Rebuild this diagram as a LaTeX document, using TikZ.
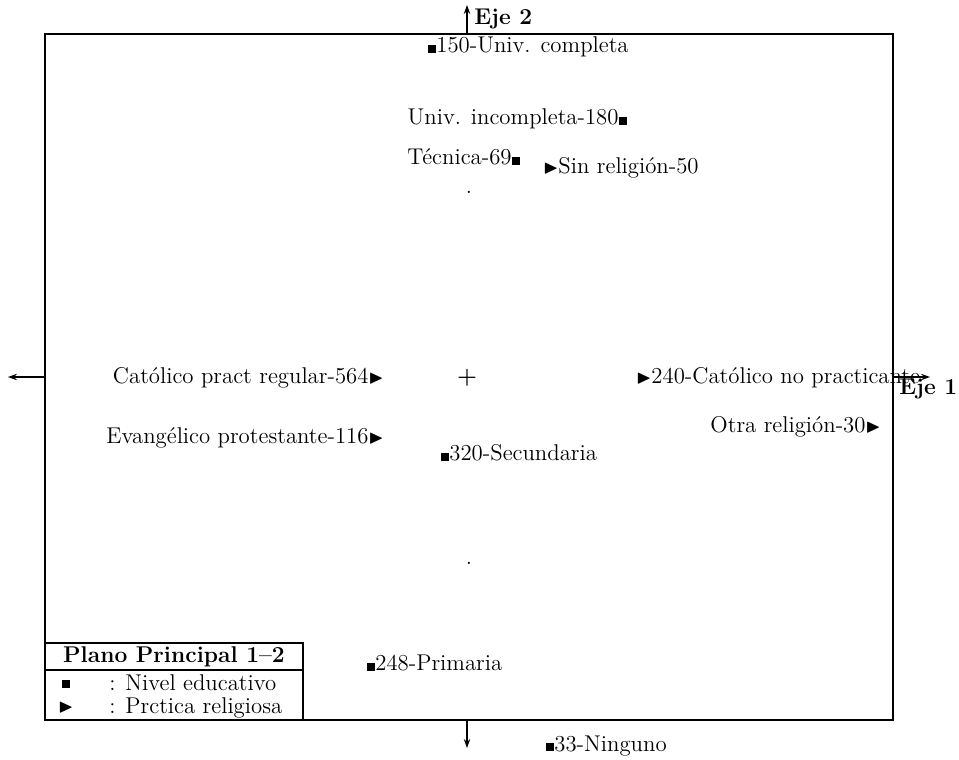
\documentclass[tikz,border=0pt]{standalone}
\usepackage{amssymb}
\usetikzlibrary{arrows.meta}
\newcommand{\msq}{\rule{4pt}{4pt}}
\newcommand{\mtri}{\raisebox{0.2pt}{\scalebox{0.85}{$\blacktriangleright$}}}
\newcommand{\bigtxt}{\fontsize{11.4}{13.5}\selectfont}
\begin{document}
\begin{tikzpicture}[x=0.5pt,y=-0.5pt,
  lbl/.style={inner sep=0pt,font=\bigtxt},
  blbl/.style={inner sep=0pt,font=\bigtxt\bfseries},
  axis/.style={line width=0.9pt,-{Stealth[length=4.5pt,width=3.2pt]}},
  frame/.style={line width=1.1pt}]
\useasboundingbox (0,0) rectangle (959,760);
% frame
\coordinate (fTL) at (45,34);
\coordinate (fBR) at (893,720);
\draw[frame] (fTL) rectangle (fBR);
% axes
\coordinate (aT0) at (467,34); \coordinate (aT1) at (467,5);
\coordinate (aB0) at (467,720); \coordinate (aB1) at (467,748);
\coordinate (aL0) at (45,377); \coordinate (aL1) at (8,377);
\coordinate (aR0) at (893,377); \coordinate (aR1) at (930,377);
\draw[axis] (aT0) -- (aT1);
\draw[axis] (aB0) -- (aB1);
\draw[axis] (aL0) -- (aL1);
\draw[axis] (aR0) -- (aR1);
\node[blbl,anchor=west] (eje2) at (474,19) {Eje 2};
\node[blbl,anchor=west] (eje1) at (899,389) {Eje 1};
% center
\node[lbl] (ctr) at (467,378) {\textbf{+}};
\node[lbl] (d1) at (469,192) {.};
\node[lbl] (d2) at (469,563) {.};
% labels
\node[lbl,anchor=west] (ucomp) at (428,47) {\msq150-Univ. completa};
\node[lbl,anchor=east] (uinc) at (627,119) {Univ. incompleta-180\msq};
\node[lbl,anchor=east] (tec) at (520,157) {Técnica-69\msq};
\node[lbl,anchor=west] (sinr) at (543,168) {\mtri Sin religión-50};
\node[lbl,anchor=east] (cpr) at (384,378) {Católico pract regular-564\mtri};
\node[lbl,anchor=west] (cnp) at (636,378) {\mtri 240-Católico no practicante};
\node[lbl,anchor=east] (otra) at (881,427) {Otra religión-30\mtri};
\node[lbl,anchor=east] (evp) at (384,438) {Evangélico protestante-116\mtri};
\node[lbl,anchor=west] (sec) at (441,453) {\msq320-Secundaria};
\node[lbl,anchor=west] (pri) at (367,663) {\msq248-Primaria};
\node[lbl,anchor=west] (nin) at (546,746) {\msq33-Ninguno};
% legend
\coordinate (lTL) at (45,643);
\coordinate (lBR) at (303,720);
\coordinate (lM0) at (45,670);
\coordinate (lM1) at (303,670);
\draw[frame] (lTL) rectangle (lBR);
\draw[frame] (lM0) -- (lM1);
\node[blbl] (ltitle) at (174,657) {Plano Principal 1--2};
\node[lbl] (lsq) at (66,684) {\msq};
\node[lbl] (ltri) at (66,708) {\mtri};
\node[lbl,anchor=west] (lne) at (109,683) {: Nivel educativo};
\node[lbl,anchor=west] (lpr) at (109,708) {: Prctica religiosa};
\end{tikzpicture}
\end{document}
